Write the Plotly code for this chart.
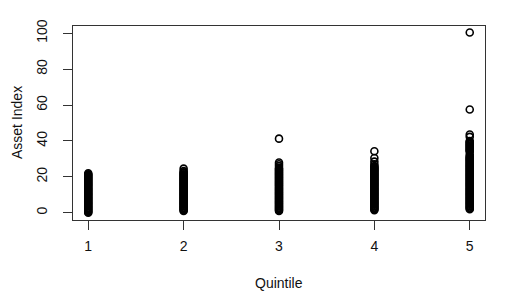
import plotly.graph_objects as go

quintile_labels = ["1", "2", "3", "4", "5"]

q1_values = [0, 0.5, 1, 1.5, 2, 2.5, 3, 3.5, 4, 4.5, 5, 5.5, 6, 6.5, 7, 7.5, 8, 8.5, 9, 9.5,
             10, 10.5, 11, 11.5, 12, 12.5, 13, 13.5, 14, 14.5, 15, 15.5, 16, 16.5, 17, 17.5,
             18, 18.5, 19, 19.5, 20, 20.5, 21, 21.5, 22]
q2_values = [1, 1.5, 2, 2.5, 3, 3.5, 4, 4.5, 5, 5.5, 6, 6.5, 7, 7.5, 8, 8.5, 9, 9.5,
             10, 10.5, 11, 11.5, 12, 12.5, 13, 13.5, 14, 14.5, 15, 15.5, 16, 16.5, 17, 17.5,
             18, 18.5, 19, 19.5, 20, 20.5, 21, 21.5, 22, 22.5, 23.2, 24.6]
q3_values = [1, 1.5, 2, 2.5, 3, 3.5, 4, 4.5, 5, 5.5, 6, 6.5, 7, 7.5, 8, 8.5, 9, 9.5,
             10, 10.5, 11, 11.5, 12, 12.5, 13, 13.5, 14, 14.5, 15, 15.5, 16, 16.5, 17, 17.5,
             18, 18.5, 19, 19.5, 20, 20.5, 21, 21.5, 22, 22.5, 23, 23.5, 24, 24.5, 25,
             26, 27, 28, 41.3]
q4_values = [1.5, 2, 2.5, 3, 3.5, 4, 4.5, 5, 5.5, 6, 6.5, 7, 7.5, 8, 8.5, 9, 9.5,
             10, 10.5, 11, 11.5, 12, 12.5, 13, 13.5, 14, 14.5, 15, 15.5, 16, 16.5, 17, 17.5,
             18, 18.5, 19, 19.5, 20, 20.5, 21, 21.5, 22, 22.5, 23, 23.5, 24, 24.5, 25, 25.5, 26,
             27, 28.5, 30.5, 34.3]
q5_values = [2, 2.5, 3, 3.5, 4, 4.5, 5, 5.5, 6, 6.5, 7, 7.5, 8, 8.5, 9, 9.5,
             10, 10.5, 11, 11.5, 12, 12.5, 13, 13.5, 14, 14.5, 15, 15.5, 16, 16.5, 17, 17.5,
             18, 18.5, 19, 19.5, 20, 20.5, 21, 21.5, 22, 22.5, 23, 23.5, 24, 24.5, 25, 25.5,
             26, 26.5, 27, 27.5, 28, 28.5, 29, 29.5, 30, 30.5, 31, 31.5, 32.5, 34, 34.5, 35,
             35.5, 36, 36.5, 37, 37.5, 38, 38.5, 39, 39.5, 40, 42.3, 43.6, 57.5, 100.4]

groups = [q1_values, q2_values, q3_values, q4_values, q5_values]

xs, ys = [], []
for i, vals in enumerate(groups):
    xs += [i + 1] * len(vals)
    ys += vals

font = dict(family="Liberation Sans, Arial, sans-serif", size=14, color="#111")

# page body has an 8px default margin, so the figure is sized to the remaining area
fig = go.Figure(go.Scatter(
    x=xs, y=ys, mode="markers",
    marker=dict(symbol="circle-open", size=7, color="black", line=dict(width=1.6)),
    hoverinfo="skip",
))

fig.update_layout(
    width=515, height=290,
    margin=dict(l=65, r=38, t=18, b=78),
    paper_bgcolor="white", plot_bgcolor="white",
    showlegend=False,
    font=font,
    annotations=[
        dict(text="Quintile", xref="paper", yref="paper", x=0.5, y=(220 - 283) / 194,
             xanchor="center", yanchor="middle", showarrow=False, font=font),
        dict(text="Asset Index", xref="paper", yref="paper", x=(17 - 73) / 412, y=0.5,
             xanchor="center", yanchor="middle", textangle=-90, showarrow=False, font=font),
    ],
)
fig.update_xaxes(
    range=[0.84, 5.16], tickvals=[1, 2, 3, 4, 5], ticktext=quintile_labels,
    showgrid=False, zeroline=False, showline=True, mirror=True, automargin=False,
    linecolor="#333", linewidth=1, ticks="outside", ticklen=9, tickcolor="#333",
    ticklabelstandoff=4,
)
fig.update_yaxes(
    range=[-4, 104], tickvals=[0, 20, 40, 60, 80, 100],
    showgrid=False, zeroline=False, showline=True, mirror=True, automargin=False,
    linecolor="#333", linewidth=1, ticks="outside", ticklen=9, tickcolor="#333",
    tickangle=-90, ticklabelstandoff=10,
)

fig.write_html("out.html")
